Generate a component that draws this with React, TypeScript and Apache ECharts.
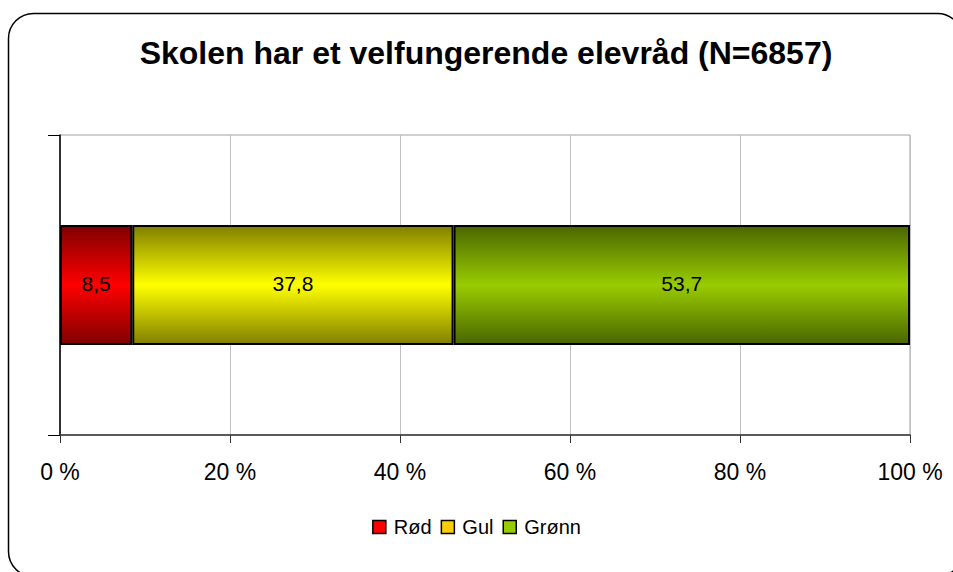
import React, { useEffect, useRef } from "react";
import * as echarts from "echarts";

const categories = ["Skolen har et velfungerende elevråd"];
const seriesNames = ["Rød", "Gul", "Grønn"];
const redValues = [8.5];
const yellowValues = [37.8];
const greenValues = [53.7];
const xTicks = [0, 20, 40, 60, 80, 100];
const titleText = "Skolen har et velfungerende elevråd (N=6857)";

const FONT = "'Liberation Sans', Arial, sans-serif";

function grad(edge: string, mid: string) {
  return new echarts.graphic.LinearGradient(0, 0, 0, 1, [
    { offset: 0, color: edge },
    { offset: 0.5, color: mid },
    { offset: 1, color: edge },
  ]);
}

export default function App() {
  const ref = useRef<HTMLDivElement>(null);
  useEffect(() => {
    if (!ref.current) return;
    const chart = echarts.init(ref.current, null, { renderer: "svg" });
    const fmt = (p: any) => String(p.value).replace(".", ",");
    const mk = (name: string, data: number[], edge: string, mid: string) => ({
      name,
      type: "bar",
      stack: "total",
      barWidth: 120,
      data,
      itemStyle: { color: grad(edge, mid), borderColor: "#000", borderWidth: 2 },
      label: {
        show: true,
        position: "inside",
        offset: [0, -2],
        color: "#000",
        fontFamily: FONT,
        fontSize: 21,
        formatter: fmt,
      },
    });
    chart.setOption({
      animation: false,
      backgroundColor: "#fff",
      graphic: [
        {
          type: "rect",
          shape: { x: 8.5, y: 13.5, width: 954, height: 563, r: 25 },
          style: { fill: "none", stroke: "#000", lineWidth: 1.5 },
          z: -1,
        },
      ],
      title: {
        text: titleText,
        left: 481,
        textAlign: "center",
        top: 32,
        textStyle: { fontFamily: FONT, fontSize: 32, fontWeight: "bold", color: "#000" },
      },
      legend: {
        data: [
          { name: seriesNames[0], itemStyle: { color: "#ff0000", borderColor: "#000", borderWidth: 1.5 } },
          { name: seriesNames[1], itemStyle: { color: "#ffcc00", borderColor: "#000", borderWidth: 1.5 } },
          { name: seriesNames[2], itemStyle: { color: "#99cc00", borderColor: "#000", borderWidth: 1.5 } },
        ],
        left: "center",
        top: 512,
        icon: "rect",
        itemWidth: 13,
        itemHeight: 13,
        itemGap: 9,
        textStyle: { fontFamily: FONT, fontSize: 20, color: "#000", padding: [0, 0, 0, 3] },
      },
      grid: {
        left: 60,
        right: 43,
        top: 135,
        bottom: 137,
        show: true,
        borderColor: "#a0a0a0",
        borderWidth: 1,
        containLabel: false,
      },
      xAxis: {
        type: "value",
        min: xTicks[0],
        max: xTicks[xTicks.length - 1],
        interval: 20,
        axisLine: { show: true, lineStyle: { color: "#333", width: 1.5 } },
        axisTick: { show: true, length: 8, lineStyle: { color: "#333" } },
        splitLine: { show: true, lineStyle: { color: "#c0c0c0", width: 1 } },
        axisLabel: {
          formatter: "{value} %",
          fontFamily: FONT,
          fontSize: 23,
          color: "#000",
          margin: 25,
        },
      },
      yAxis: {
        type: "category",
        data: categories,
        axisLine: { show: true, lineStyle: { color: "#000", width: 1.5 } },
        axisTick: { show: true, length: 12, lineStyle: { color: "#000", width: 1 } },
        axisLabel: { show: false },
      },
      series: [
        mk(seriesNames[0], redValues, "#800000", "#ff0000"),
        mk(seriesNames[1], yellowValues, "#808000", "#ffff00"),
        mk(seriesNames[2], greenValues, "#4a6600", "#99cc00"),
      ],
    });
    return () => chart.dispose();
  }, []);
  return (
    <div
      ref={ref}
      style={{ position: "absolute", left: 0, top: 0, width: 953, height: 572 }}
    />
  );
}
